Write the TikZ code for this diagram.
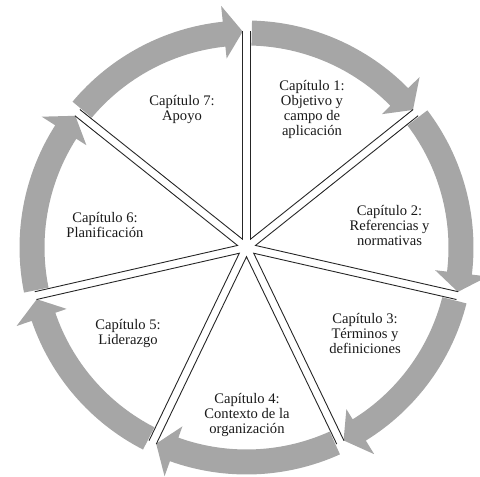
\documentclass[tikz,border=0pt]{standalone}
\usepackage{fontspec}
\setmainfont{Liberation Serif}
\pgfdeclarelayer{bg}
\pgfsetlayers{bg,main}
\definecolor{ringgray}{RGB}{166,166,166}

\begin{document}
\begin{tikzpicture}
  [x=1pt,y=1pt,every node/.style={align=center,text=black!90,
   font=\fontsize{14.6}{15}\selectfont},
   edge/.style={draw=black!85,line width=0.9pt},
   ringarrow/.style={fill=ringgray}]
  \useasboundingbox (0,0) rectangle (480,477);
  \coordinate (c) at (246.5,229.5);

  \node (cap1) at (312,367.5) {Capítulo 1:\\Objetivo y\\campo de\\aplicación};
  \node (cap2) at (389.5,252) {Capítulo 2:\\Referencias y\\normativas};
  \node (cap3) at (365,144) {Capítulo 3:\\Términos y\\definiciones};
  \node (cap4) at (247,62) {Capítulo 4:\\Contexto de la\\organización};
  \node (cap5) at (128,143) {Capítulo 5:\\Liderazgo};
  \node (cap6) at (105,252) {Capítulo 6:\\Planificación};
  \node (cap7) at (182,367) {Capítulo 7:\\Apoyo};

\begin{scope}[shift={(c)}]
  \draw[edge] (64.286:9.2) ++(90:208) -- (64.286:9.2) -- ++(38.571:208);
  \draw[edge] (12.857:9.2) ++(38.571:208) -- (12.857:9.2) -- ++(-12.857:208);
  \draw[edge] (-38.571:9.2) ++(-12.857:208) -- (-38.571:9.2) -- ++(-64.286:208);
  \draw[edge] (-90:9.2) ++(-64.286:208) -- (-90:9.2) -- ++(-115.714:208);
  \draw[edge] (-141.429:9.2) ++(-115.714:208) -- (-141.429:9.2) -- ++(-167.143:208);
  \draw[edge] (167.143:9.2) ++(-167.143:208) -- (167.143:9.2) -- ++(141.429:208);
  \draw[edge] (115.714:9.2) ++(141.429:208) -- (115.714:9.2) -- ++(90:208);
\end{scope}

\begin{pgfonlayer}{bg}
\begin{scope}[shift={(c)}]
  \fill[ringarrow] (88.6:227) arc[start angle=88.6,end angle=44.571,radius=227]
    -- (44.571:243) -- (39.571:216) -- (44.571:190) -- (44.571:202)
    arc[start angle=44.571,end angle=88.6,radius=202] -- cycle;
  \fill[ringarrow] (37.171:227) arc[start angle=37.171,end angle=-6.857,radius=227]
    -- (-6.857:243) -- (-11.857:216) -- (-6.857:190) -- (-6.857:202)
    arc[start angle=-6.857,end angle=37.171,radius=202] -- cycle;
  \fill[ringarrow] (-14.257:227) arc[start angle=-14.257,end angle=-58.286,radius=227]
    -- (-58.286:243) -- (-63.286:216) -- (-58.286:190) -- (-58.286:202)
    arc[start angle=-58.286,end angle=-14.257,radius=202] -- cycle;
  \fill[ringarrow] (-65.686:227) arc[start angle=-65.686,end angle=-109.714,radius=227]
    -- (-109.714:243) -- (-114.714:216) -- (-109.714:190) -- (-109.714:202)
    arc[start angle=-109.714,end angle=-65.686,radius=202] -- cycle;
  \fill[ringarrow] (-117.114:227) arc[start angle=-117.114,end angle=-161.143,radius=227]
    -- (-161.143:243) -- (-166.143:216) -- (-161.143:190) -- (-161.143:202)
    arc[start angle=-161.143,end angle=-117.114,radius=202] -- cycle;
  \fill[ringarrow] (-168.543:227) arc[start angle=-168.543,end angle=-212.571,radius=227]
    -- (-212.571:243) -- (-217.571:216) -- (-212.571:190) -- (-212.571:202)
    arc[start angle=-212.571,end angle=-168.543,radius=202] -- cycle;
  \fill[ringarrow] (-219.971:227) arc[start angle=-219.971,end angle=-264,radius=227]
    -- (-264:243) -- (-269:216) -- (-264:190) -- (-264:202)
    arc[start angle=-264,end angle=-219.971,radius=202] -- cycle;
\end{scope}
\end{pgfonlayer}

\end{tikzpicture}
\end{document}
